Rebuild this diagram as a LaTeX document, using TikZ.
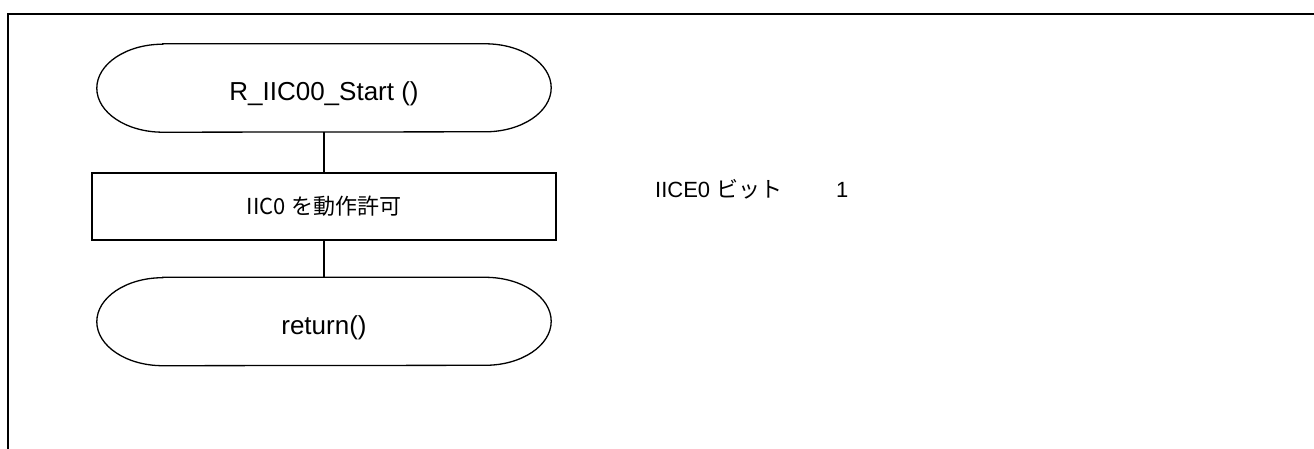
\documentclass[tikz,border=0pt]{standalone}
\usepackage{fontspec}
\setmainfont{Liberation Sans}
\newfontfamily\jp{Noto Sans CJK JP}
\usetikzlibrary{positioning}

\begin{document}
\begin{tikzpicture}[
		x=1pt, y=-1pt,
		terminal/.style={minimum width=454pt, minimum height=88pt, inner sep=0pt, text height=25pt, text depth=0pt, font=\fontsize{26}{30}\selectfont},
		process/.style={rectangle, draw, line width=1.3pt, minimum width=464pt, minimum height=67pt, inner sep=0pt, font=\jp\fontsize{22}{26}\selectfont},
		outline/.style={draw, line width=1.3pt},
		flow/.style={draw, line width=1.8pt},
		note/.style={anchor=base west, inner sep=0pt, font=\fontsize{22}{26}\selectfont},
		frame/.style={draw, line width=2pt}
		]
		\useasboundingbox (0,0) rectangle (1314,449);

		% --- cadre ---
		\draw[frame] (1314,14) -- (8,14) -- (8,449);

		% --- organigramme ---
		\node[terminal] (start) at (324,88) {R\_IIC00\_Start ()};
		\node[process] (enable) at (324,206.5) {IIC0 を動作許可};
		\node[terminal] (ret) at (324,321.5) {return()};

		% bords arrondis des terminaux
		\foreach \t in {start,ret}
			\draw[outline] ([xshift=66pt]\t.north west) -- ([xshift=-66pt]\t.north east)
				arc[start angle=90, end angle=-90, x radius=66pt, y radius=44pt]
				-- ([xshift=66pt]\t.south west)
				arc[start angle=270, end angle=90, x radius=66pt, y radius=44pt] -- cycle;

		\draw[flow] (start) -- (enable);
		\draw[flow] (enable) -- (ret);

		% --- commentaire ---
		\node[note] (bit) at (655,197) {IICE0 {\jp ビット}\hspace{2.45em}1};

	\end{tikzpicture}
\end{document}
